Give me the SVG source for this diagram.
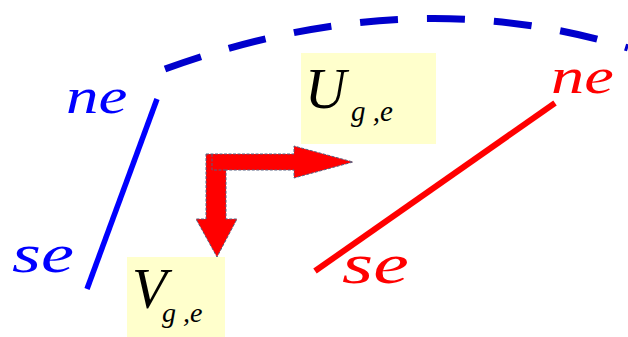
<svg xmlns="http://www.w3.org/2000/svg" width="628" height="337" viewBox="0 0 628 337">
<style>
.box{fill:#ffffcc}
.arrow{fill:#ff0000;stroke:#556080;stroke-width:1;stroke-dasharray:3 1.5}
</style>
<rect width="628" height="337" fill="#ffffff"/>
<g id="arc">
<path d="M165 69 Q410 -20 628 48" fill="none" stroke="#0000cc" stroke-width="7" stroke-dasharray="38 29"/>
</g>
<g id="blue-edge">
<line x1="157" y1="99" x2="87" y2="289" stroke="#0000ff" stroke-width="5.5"/>
<text transform="translate(66,113) scale(1.3,1)" font-family="Liberation Serif" font-style="italic" font-size="50" fill="#0000ff">ne</text>
<text transform="translate(12,272) scale(1.35,1)" font-family="Liberation Serif" font-style="italic" font-size="55" fill="#0000ff">se</text>
</g>
<g id="red-edge">
<line x1="555" y1="103" x2="315" y2="271" stroke="#ff0000" stroke-width="6"/>
<text transform="translate(551,93) scale(1.33,1)" font-family="Liberation Serif" font-style="italic" font-size="50" fill="#ff0000">ne</text>
<text transform="translate(342,283) scale(1.38,1)" font-family="Liberation Serif" font-style="italic" font-size="58" fill="#ff0000">se</text>
</g>
<g id="U">
<rect class="box" x="301" y="53" width="135" height="91"/>
<text x="305" y="108" font-family="Liberation Serif" font-style="italic" font-size="57" fill="#000000">U</text>
<text x="351" y="121" font-family="Liberation Serif" font-style="italic" font-size="29" fill="#000000">g ,e</text>
</g>
<g id="V">
<rect class="box" x="127" y="257" width="98" height="80"/>
<text x="132" y="308" font-family="Liberation Serif" font-style="italic" font-size="57" fill="#000000">V</text>
<text x="162" y="322" font-family="Liberation Serif" font-style="italic" font-size="28" fill="#000000">g ,e</text>
</g>
<g id="connectors">
<polygon class="arrow" points="206,154 294,154 294,146 353,162 294,178 294,170 226,170 226,219 237,219 217,257 196,219 206,219"/>
<polyline class="arrow" points="212,154 212,170 226,170" fill="none" style="fill:none"/>
</g>
</svg>
